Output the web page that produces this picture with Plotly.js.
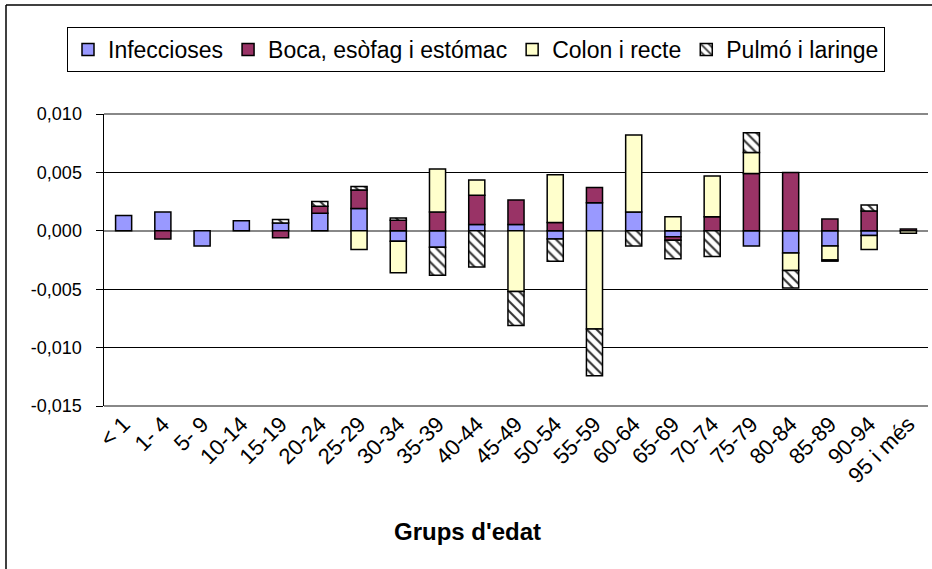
<!DOCTYPE html>
<html>
<head>
<meta charset="utf-8">
<script src="https://cdn.plot.ly/plotly-3.0.1.min.js"></script>
<style>
html,body{margin:0;padding:0;background:#fff;}
#chart{width:932px;height:569px;}
</style>
</head>
<body>
<div id="chart"></div>
<script>
const categories = ["< 1","1- 4","5- 9","10-14","15-19","20-24","25-29","30-34","35-39","40-44","45-49","50-54","55-59","60-64","65-69","70-74","75-79","80-84","85-89","90-94","95 i més"];
const seriesNames = ["Infeccioses","Boca, esòfag i estómac","Colon i recte","Pulmó i laringe"];
const infeccioses = [0.0013, 0.0016, -0.0013, 0.00085, 0.00066, 0.0015, 0.0019, -0.0009, -0.0014, 0.00054, 0.00054, -0.0007, 0.0024, 0.0016, -0.0005, null, -0.0013, -0.0019, -0.0013, -0.0004, null];
const boca = [null, -0.0007, null, null, -0.0006, 0.0006, 0.0016, 0.0009, 0.0016, 0.0025, 0.0021, 0.0007, 0.0013, null, -0.0003, 0.0012, 0.0049, 0.005, 0.001, 0.0017, 0.00015];
const colon = [null, null, null, null, null, null, -0.0016, -0.0027, 0.0037, 0.0013, -0.0052, 0.0041, -0.0084, 0.0066, 0.0012, 0.0035, 0.0018, -0.0015, -0.0012, -0.0012, -0.0002];
const pulmo = [null, null, null, null, 0.0003, 0.0004, 0.0003, 0.0002, -0.0024, -0.0031, -0.0029, -0.0019, -0.0040, -0.0013, -0.0016, -0.0022, 0.0017, -0.0015, -0.0001, 0.0005, null];
const yTickVals = [0.010, 0.005, 0, -0.005, -0.010, -0.015];
const yTickText = ["0,010", "0,005", "0,000", "-0,005", "-0,010", "-0,015"];
const xTitle = "Grups d'edat";

const font = "Liberation Sans, Arial, sans-serif";
const line = {color: "#000", width: 1.5};

const traces = [
  {type: "bar", name: seriesNames[0], x: categories, y: infeccioses, marker: {color: "#9999FF", line: line}},
  {type: "bar", name: seriesNames[1], x: categories, y: boca, marker: {color: "#993366", line: line}},
  {type: "bar", name: seriesNames[2], x: categories, y: colon, marker: {color: "#FFFFCC", line: line}},
  {type: "bar", name: seriesNames[3], x: categories, y: pulmo,
   marker: {color: "#FFFFFF", line: line,
            pattern: {shape: "\\", fgcolor: "#333", bgcolor: "#FFFFFF", size: 7, solidity: 0.3}}}
];

const L = 104, R = 928, T = 114, B = 406;
const px = v => (v - L) / (R - L);
const py = v => (B - v) / (B - T);

const layout = {
  width: 932, height: 569,
  margin: {l: L, r: 932 - R, t: T, b: 569 - B},
  paper_bgcolor: "#fff", plot_bgcolor: "#fff",
  barmode: "relative",
  bargap: 0.59,
  font: {family: font, color: "#000"},
  showlegend: true,
  legend: {
    orientation: "h", x: px(476), xanchor: "center", y: py(27), yanchor: "top",
    bordercolor: "#000", borderwidth: 1, bgcolor: "#fff",
    font: {family: font, size: 23, color: "#000"},
    itemwidth: 30, traceorder: "normal"
  },
  xaxis: {
    type: "category", tickangle: -45, showgrid: false, showline: false, zeroline: false,
    ticks: "", tickfont: {family: font, size: 22, color: "#000"}, automargin: false
  },
  yaxis: {
    range: [-0.015, 0.010], tickvals: yTickVals, ticktext: yTickText,
    showline: true, linecolor: "#000", linewidth: 1.5,
    ticks: "outside", ticklen: 7, tickcolor: "#000", tickwidth: 1,
    ticklabelstandoff: 10,
    showgrid: true, gridcolor: "#000", gridwidth: 1,
    zeroline: true, zerolinecolor: "#888", zerolinewidth: 2,
    tickfont: {family: font, size: 18, color: "#000"}, automargin: false
  },
  annotations: [
    {text: "<b>" + xTitle + "</b>", xref: "paper", yref: "paper",
     x: px(467), y: py(531), xanchor: "center", yanchor: "middle",
     showarrow: false, font: {family: font, size: 24, color: "#000"}}
  ],
  shapes: [
    {type: "line", xref: "paper", yref: "paper", x0: 0, x1: 1, y0: 1, y1: 1, line: {color: "#888", width: 2}, layer: "between"},
    {type: "line", xref: "paper", yref: "paper", x0: 0, x1: 1, y0: 0, y1: 0, line: {color: "#888", width: 2}, layer: "between"},
    {type: "line", xref: "paper", yref: "paper", x0: px(6), x1: px(6), y0: py(5), y1: py(569), line: {color: "#000", width: 1.5}},
    {type: "line", xref: "paper", yref: "paper", x0: px(6), x1: px(932), y0: py(5), y1: py(5), line: {color: "#000", width: 1.5}}
  ]
};

Plotly.newPlot("chart", traces, layout, {displayModeBar: false, staticPlot: true});
</script>
</body>
</html>
